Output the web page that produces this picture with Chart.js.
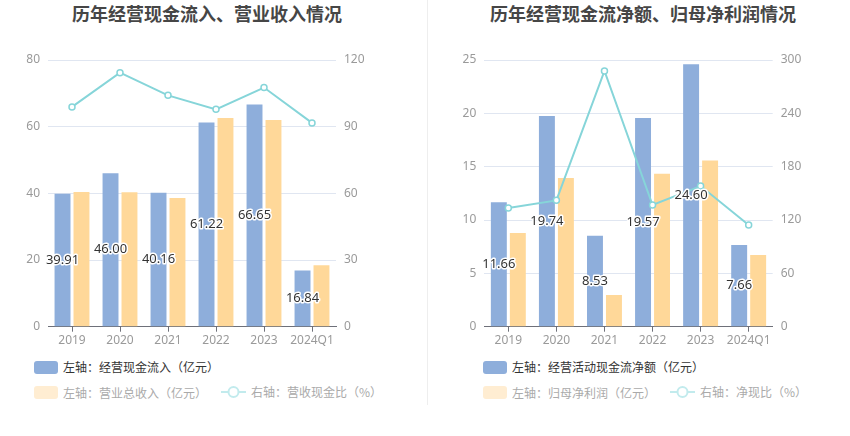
<!DOCTYPE html>
<html>
<head>
<meta charset="utf-8">
<script src="https://cdn.jsdelivr.net/npm/chart.js@4"></script>
<style>
    body { margin: 0; width: 850px; height: 436px; background: #fff; position: relative; overflow: hidden;
           font-family: "Noto Sans CJK SC", "Noto Sans", sans-serif; }
    .title { position: absolute; top: 1px; font-size: 18px; line-height: 24px; font-weight: bold; color: #464646; text-align: center; }
    .box { position: absolute; top: 40px; width: 425px; height: 310px; }
    .divider { position: absolute; left: 427px; top: 0; width: 1px; height: 405px; background: #eeeeee; }
    .legend { position: absolute; font-size: 12px; line-height: 16px; white-space: nowrap; }
    .legend .item { display: inline-flex; align-items: center; margin-right: 14px; }
    .legend .sw { width: 24px; height: 13px; border-radius: 3px; margin-right: 5px; }
    .legend svg { margin-right: 5px; }
</style>
</head>
<body>
<div class="title" style="left:0;width:414px">历年经营现金流入、营业收入情况</div>
<div class="title" style="left:425px;width:436px">历年经营现金流净额、归母净利润情况</div>
<div class="divider"></div>
<div class="box" style="left:0"><canvas id="leftChart"></canvas></div>
<div class="box" style="left:425px"><canvas id="rightChart"></canvas></div>
<div class="legend" id="leftLegend1" style="left:34px;top:359px"></div>
<div class="legend" id="leftLegend2" style="left:34px;top:384px"></div>
<div class="legend" id="rightLegend1" style="left:483px;top:359px"></div>
<div class="legend" id="rightLegend2" style="left:483px;top:384px"></div>
<script>
var years = ['2019', '2020', '2021', '2022', '2023', '2024Q1'];

// 左图
var cashInflow = [39.91, 46.00, 40.16, 61.22, 66.65, 16.84];
var revenue = [40.4, 40.3, 38.6, 62.6, 62.0, 18.4];
var cashRevenueRatio = [98.9, 114.3, 104.1, 97.8, 107.6, 91.7];
var leftNames = ['左轴：经营现金流入（亿元）', '左轴：营业总收入（亿元）', '右轴：营收现金比（%）'];

// 右图
var netCashFlow = [11.66, 19.74, 8.53, 19.57, 24.60, 7.66];
var netProfit = [8.78, 13.94, 2.97, 14.34, 15.59, 6.72];
var netCashRatio = [133.5, 142.1, 287.6, 136.9, 158.2, 114.4];
var rightNames = ['左轴：经营活动现金流净额（亿元）', '左轴：归母净利润（亿元）', '右轴：净现比（%）'];

var blue = '#8eaedb';
var yellow = '#ffd899';
var teal = '#86d5d9';
var tickColor = '#9a9a9a';
var gridColor = '#e0e6f1';
var axisColor = '#6e7079';

var barLabels = {
    id: 'barLabels',
    afterDatasetsDraw: function (chart) {
        var ctx = chart.ctx;
        var meta = chart.getDatasetMeta(0);
        ctx.save();
        ctx.font = '13px "Noto Sans", sans-serif';
        ctx.textAlign = 'center';
        ctx.textBaseline = 'middle';
        ctx.lineWidth = 3;
        ctx.lineJoin = 'round';
        ctx.strokeStyle = '#fff';
        ctx.fillStyle = '#333';
        meta.data.forEach(function (bar, i) {
            var p = bar.getProps(['x', 'y', 'base'], true);
            var y = (p.y + p.base) / 2;
            var txt = chart.data.datasets[0].data[i].toFixed(2);
            ctx.strokeText(txt, p.x, y);
            ctx.fillText(txt, p.x, y);
        });
        ctx.restore();
    }
};

function makeChart(id, bars1, bars2, line, names, leftMax, leftStep, rightMax, rightStep, leftW, rightW) {
    var ctx = document.getElementById(id).getContext('2d');
    return new Chart(ctx, {
        type: 'bar',
        data: {
            labels: years,
            datasets: [{
                label: names[0],
                data: bars1,
                backgroundColor: blue,
                yAxisID: 'y',
                order: 2,
                categoryPercentage: 0.79,
                barPercentage: 0.84
            }, {
                label: names[1],
                data: bars2,
                backgroundColor: yellow,
                yAxisID: 'y',
                order: 2,
                categoryPercentage: 0.79,
                barPercentage: 0.84
            }, {
                type: 'line',
                label: names[2],
                data: line,
                borderColor: teal,
                borderWidth: 2,
                pointRadius: 3,
                pointBackgroundColor: '#fff',
                pointBorderColor: teal,
                pointBorderWidth: 1.5,
                tension: 0,
                yAxisID: 'y1',
                order: 0
            }]
        },
        options: {
            responsive: true,
            maintainAspectRatio: false,
            animation: false,
            layout: { padding: { top: 20, left: 0, right: 0, bottom: 0 } },
            plugins: { legend: { display: false }, tooltip: { enabled: false } },
            scales: {
                x: {
                    grid: { drawOnChartArea: false, offset: false, tickLength: 5, color: axisColor },
                    border: { color: axisColor },
                    ticks: { color: tickColor, font: { size: 12, family: 'Noto Sans' }, padding: 2,
                             maxRotation: 0, minRotation: 0, autoSkip: false },
                    afterFit: function (s) { s.height = 23.3; }
                },
                y: {
                    position: 'left',
                    min: 0, max: leftMax,
                    grid: { color: gridColor, drawTicks: false },
                    border: { display: false },
                    ticks: { stepSize: leftStep, color: tickColor, font: { size: 12, family: 'Noto Sans' }, padding: 8 },
                    afterFit: function (s) { s.width = leftW; }
                },
                y1: {
                    position: 'right',
                    min: 0, max: rightMax,
                    grid: { drawOnChartArea: false, drawTicks: false },
                    border: { display: false },
                    ticks: { stepSize: rightStep, color: tickColor, font: { size: 12, family: 'Noto Sans' }, padding: 8 },
                    afterFit: function (s) { s.width = rightW; }
                }
            }
        },
        plugins: [barLabels]
    });
}

function makeLegend(row1, row2, names) {
    row1.innerHTML = '<span class="item"><span class="sw" style="background:' + blue + '"></span>' +
        '<span style="color:#333">' + names[0] + '</span></span>';
    row2.innerHTML = '<span class="item"><span class="sw" style="background:#ffedd2"></span>' +
        '<span style="color:#aaa">' + names[1] + '</span></span>' +
        '<span class="item"><svg width="25" height="14"><line x1="0" y1="7" x2="25" y2="7" stroke="#c2ebed" stroke-width="2"/>' +
        '<circle cx="12.5" cy="7" r="5" fill="#fff" stroke="#c2ebed" stroke-width="2"/></svg>' +
        '<span style="color:#aaa">' + names[2] + '</span></span>';
}

document.addEventListener('DOMContentLoaded', function () {
    makeChart('leftChart', cashInflow, revenue, cashRevenueRatio, leftNames, 80, 20, 120, 30, 48, 89);
    makeChart('rightChart', netCashFlow, netProfit, netCashRatio, rightNames, 25, 5, 300, 60, 59.3, 77.3);
    makeLegend(document.getElementById('leftLegend1'), document.getElementById('leftLegend2'), leftNames);
    makeLegend(document.getElementById('rightLegend1'), document.getElementById('rightLegend2'), rightNames);
});
</script>
</body>
</html>
